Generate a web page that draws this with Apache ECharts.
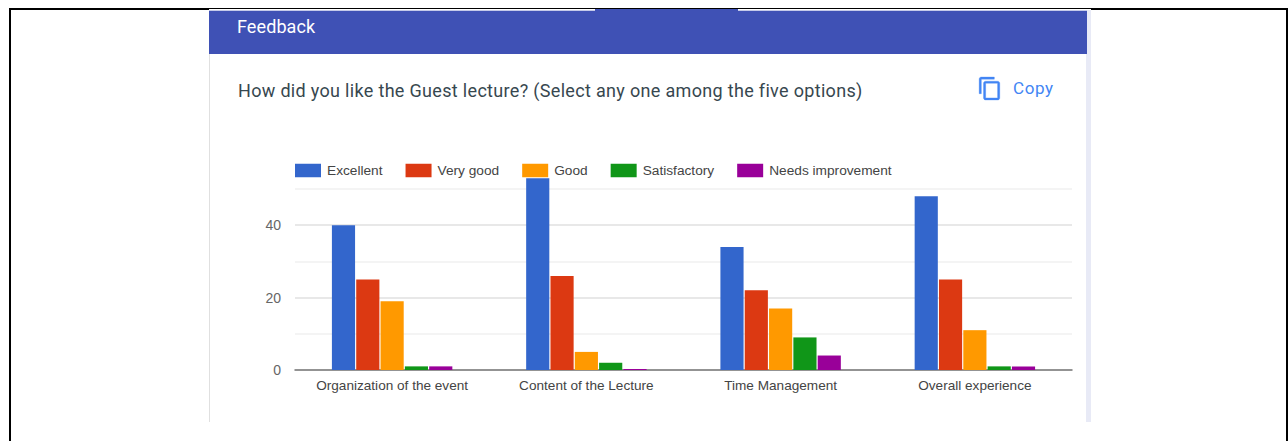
<!DOCTYPE html>
<html>
<head>
<meta charset="utf-8">
<title>Feedback</title>
<script src="https://cdn.jsdelivr.net/npm/echarts@6/dist/echarts.min.js"></script>
<style>
  html, body { margin: 0; padding: 0; background: #fff; }
  body { width: 1288px; height: 441px; overflow: hidden; position: relative; font-family: Roboto, sans-serif; }
  .abs { position: absolute; }
  .frame-left { left: 9px; top: 8px; width: 2px; height: 433px; background: #000; }
  .frame-right { left: 1286px; top: 8px; width: 2px; height: 433px; background: #000; }
  .frame-top { left: 9px; top: 8px; width: 1279px; height: 1px; background: #000; }
  .frame-top-l { left: 9px; top: 8px; width: 200px; height: 2px; background: #000; }
  .frame-top-r { left: 1091px; top: 8px; width: 197px; height: 2px; background: #000; }
  .card-left { left: 209px; top: 11px; width: 1px; height: 411px; background: #e0e0e0; }
  .card-right { left: 1086px; top: 10px; width: 5px; height: 412px; background: #e8eaf6; }
  .header-edge { left: 209px; top: 10px; width: 878px; height: 1px; background: #c5cae9; }
  .header-tab { left: 595px; top: 9px; width: 143px; height: 2px; background: #3f51b5; }
  .header { left: 209px; top: 11px; width: 878px; height: 42.5px; background: #3f51b5; }
  .header span { position: absolute; left: 28px; top: 5px; color: #fff; font-size: 18px; line-height: 22px; letter-spacing: 0.1px; }
  .question { left: 238px; top: 80px; color: #37474f; font-size: 18px; line-height: 22px; letter-spacing: 0.32px; white-space: nowrap; }
  .copy { left: 1013px; top: 78px; color: #4285f4; font-size: 17px; line-height: 20px; font-weight: 400; letter-spacing: 0.6px; }
  .copy-icon { left: 977px; top: 75.7px; width: 26px; height: 25px; }
  #chart { left: 0; top: 0; width: 1288px; height: 441px; }
</style>
</head>
<body>
<div class="abs frame-top"></div>
<div class="abs frame-top-l"></div>
<div class="abs frame-top-r"></div>
<div class="abs frame-left"></div>
<div class="abs frame-right"></div>
<div class="abs card-left"></div>
<div class="abs card-right"></div>
<div class="abs header-edge"></div>
<div class="abs header-tab"></div>
<div class="abs header"><span>Feedback</span></div>
<div class="abs question">How did you like the Guest lecture? (Select any one among the five options)</div>
<svg class="abs copy-icon" viewBox="0 0 24 24" preserveAspectRatio="none"><path fill="#4285f4" stroke="#4285f4" stroke-width="0.3" d="M16 1H4c-1.1 0-2 .9-2 2v14h2V3h12V1zm3 4H8c-1.1 0-2 .9-2 2v14c0 1.1.9 2 2 2h11c1.1 0 2-.9 2-2V7c0-1.1-.9-2-2-2zm0 16H8V7h11v14z"/></svg>
<div class="abs copy">Copy</div>
<div class="abs" id="chart"></div>

<script>
  const categories = ['Organization of the event', 'Content of the Lecture', 'Time Management', 'Overall experience'];
  const excellent = [40, 53, 34, 48];
  const veryGood = [25, 26, 22, 25];
  const good = [19, 5, 17, 11];
  const satisfactory = [1, 2, 9, 1];
  const needsImprovement = [1, 0, 4, 1];
  const yTickLabels = [0, 20, 40];

  const myChart = echarts.init(document.getElementById('chart'), null, {renderer: 'svg'});
  myChart.setOption({
    backgroundColor: 'transparent',
    animation: false,
    textStyle: {fontFamily: '"Liberation Sans", Arial, sans-serif'},
    legend: {
      left: 295,
      top: 163.5,
      padding: 0,
      itemWidth: 26,
      itemHeight: 13.5,
      itemGap: 23,
      icon: 'rect',
      textStyle: {fontSize: 13.7, color: '#444', padding: [0, 0, 0, 1]}
    },
    grid: {left: 295, right: 216, top: 189, height: 181, containLabel: false},
    xAxis: {
      type: 'category',
      data: categories,
      axisTick: {show: false},
      axisLine: {lineStyle: {color: '#777', width: 1.5}},
      axisLabel: {fontSize: 13.6, color: '#444', margin: 8, interval: 0}
    },
    yAxis: {
      type: 'value',
      min: 0,
      max: 50,
      interval: 10,
      axisLine: {show: false},
      axisTick: {show: false},
      splitLine: {lineStyle: {color: ['#e0e0e0', '#f0f0f0'], width: 1.5}},
      axisLabel: {
        fontSize: 14,
        color: '#666',
        margin: 14,
        formatter(val) {
          return yTickLabels.includes(val) ? String(val) : '';
        }
      }
    },
    series: [
      {name: 'Excellent', data: excellent, color: '#3366cc'},
      {name: 'Very good', data: veryGood, color: '#dc3912'},
      {name: 'Good', data: good, color: '#ff9900'},
      {name: 'Satisfactory', data: satisfactory, color: '#109618'},
      {name: 'Needs improvement', data: needsImprovement, color: '#990099'}
    ].map(obj => ({
      ...obj,
      type: 'bar',
      clip: false,
      barMinHeight: 1,
      barGap: '5%',
      barCategoryGap: '38%'
    }))
  });
</script>
</body>
</html>
